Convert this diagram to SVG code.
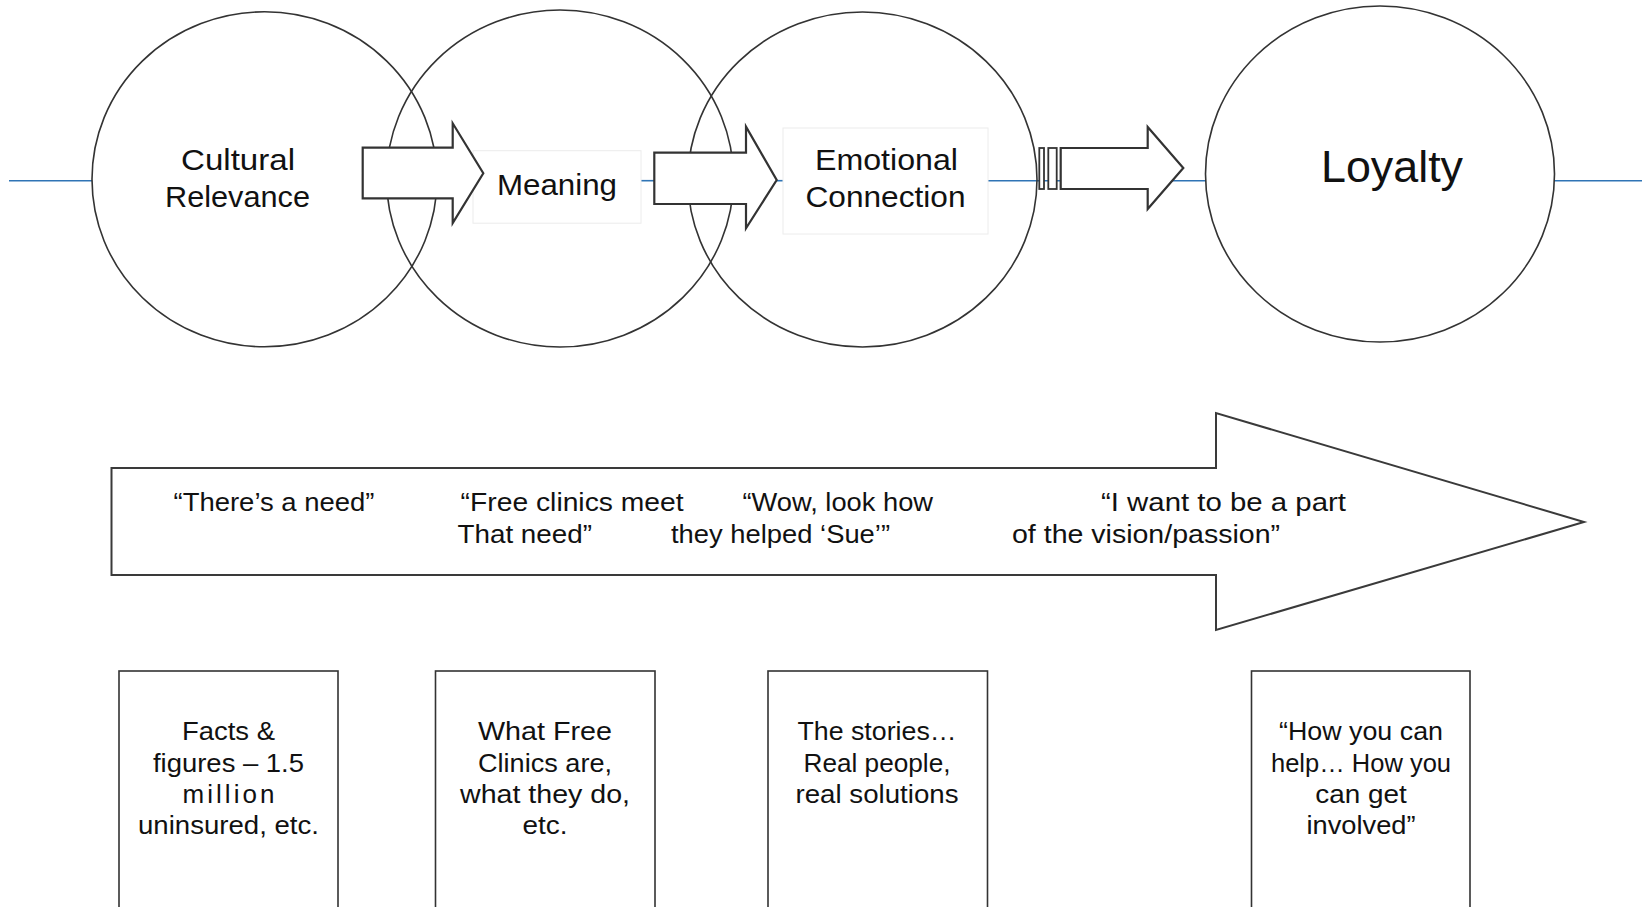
<svg xmlns="http://www.w3.org/2000/svg" width="1649" height="907" viewBox="0 0 1649 907">
<style>
.bg{fill:#ffffff}
.circle{fill:none;stroke:#333333;stroke-width:1.6}
.blue{stroke:#2f74b5;stroke-width:1.6;fill:none}
.lbox{fill:#ffffff;stroke:#ececec;stroke-width:1}
.barrow{fill:#ffffff;stroke:#333333;stroke-width:2.2;stroke-linejoin:miter}
.big{fill:#ffffff;stroke:#3a3a3a;stroke-width:2}
.box{fill:#ffffff;stroke:#333333;stroke-width:1.6}
.t{font-family:"Liberation Sans","Noto Sans",sans-serif;fill:#111111}
.lab{font-size:30px;text-anchor:middle}
.q{font-size:26px}
.bt{font-size:26px;text-anchor:middle}
</style>
<rect class="bg" x="0" y="0" width="1649" height="907"/>
<g id="connectors">
<line class="blue" x1="9" y1="180.7" x2="92" y2="180.7"/>
<line class="blue" x1="641" y1="180.7" x2="655" y2="180.7"/>
<line class="blue" x1="776" y1="180.7" x2="784" y2="180.7"/>
<line class="blue" x1="988" y1="180.7" x2="1062" y2="180.7"/>
<line class="blue" x1="1172" y1="180.7" x2="1206" y2="180.7"/>
<line class="blue" x1="1554" y1="180.7" x2="1642" y2="180.7"/>
</g>
<g id="circle-cultural"><ellipse class="circle" cx="264.5" cy="179.3" rx="172.5" ry="167.5"/></g>
<g id="circle-meaning"><ellipse class="circle" cx="560" cy="178.5" rx="173.5" ry="168.5"/></g>
<g id="circle-emotional"><ellipse class="circle" cx="862.5" cy="179.5" rx="174.5" ry="167.5"/></g>
<g id="circle-loyalty"><ellipse class="circle" cx="1380" cy="174" rx="174.5" ry="168"/></g>
<g id="label-meaning-box"><rect class="lbox" x="473" y="150.7" width="168" height="72.5"/></g>
<g id="label-emotional-box"><rect class="lbox" x="783" y="128" width="205" height="106"/></g>
<g id="arrow-1"><path class="barrow" d="M362.7 147.7 L452.7 147.7 L452.7 123.3 L483.3 173.3 L452.7 223 L452.7 198.3 L362.7 198.3 Z"/></g>
<g id="arrow-2"><path class="barrow" d="M654.3 152.7 L746 152.7 L746 126.7 L776.7 180 L746 228.3 L746 204 L654.3 204 Z"/></g>
<g id="arrow-3">
<rect class="barrow" x="1039.3" y="148" width="4.7" height="41" style="stroke-width:1.8"/>
<rect class="barrow" x="1048.3" y="148" width="8.4" height="41" style="stroke-width:1.8"/>
<path class="barrow" d="M1060.7 148 L1147.7 148 L1147.7 127 L1183.3 168 L1147.7 209 L1147.7 189 L1060.7 189 Z"/>
</g>
<g id="texts-top">
<text class="t lab" x="238" y="170" textLength="114" lengthAdjust="spacingAndGlyphs">Cultural</text>
<text class="t lab" x="237.5" y="207" textLength="145" lengthAdjust="spacingAndGlyphs">Relevance</text>
<text class="t lab" x="557" y="195" textLength="120" lengthAdjust="spacingAndGlyphs">Meaning</text>
<text class="t lab" x="886.5" y="170" textLength="143" lengthAdjust="spacingAndGlyphs">Emotional</text>
<text class="t lab" x="885.5" y="207" textLength="160" lengthAdjust="spacingAndGlyphs">Connection</text>
<text class="t lab" x="1392" y="182" style="font-size:44px" textLength="142" lengthAdjust="spacingAndGlyphs">Loyalty</text>
</g>
<g id="big-arrow">
<path class="big" d="M111.5 468 L1216 468 L1216 413 L1584 522 L1216 630 L1216 575 L111.5 575 Z"/>
<text class="t q" x="173.5" y="511" textLength="201" lengthAdjust="spacingAndGlyphs">“There’s a need”</text>
<text class="t q" x="460.6" y="511" textLength="223" lengthAdjust="spacingAndGlyphs">“Free clinics meet</text>
<text class="t q" x="457.5" y="543" textLength="134.5" lengthAdjust="spacingAndGlyphs">That need”</text>
<text class="t q" x="742.5" y="511" textLength="190.5" lengthAdjust="spacingAndGlyphs">“Wow, look how</text>
<text class="t q" x="671" y="543" textLength="219" lengthAdjust="spacingAndGlyphs">they helped ‘Sue’”</text>
<text class="t q" x="1101" y="511" textLength="245" lengthAdjust="spacingAndGlyphs">“I want to be a part</text>
<text class="t q" x="1012" y="543" textLength="268" lengthAdjust="spacingAndGlyphs">of the vision/passion”</text>
</g>
<g id="box-facts">
<rect class="box" x="119" y="671" width="219" height="260"/>
<text class="t bt" x="228.5" y="740" textLength="93" lengthAdjust="spacingAndGlyphs">Facts &amp;</text>
<text class="t bt" x="228.5" y="772" textLength="151" lengthAdjust="spacingAndGlyphs">figures – 1.5</text>
<text class="t bt" x="228.5" y="803" textLength="92" lengthAdjust="spacing">million</text>
<text class="t bt" x="228.5" y="834" textLength="181" lengthAdjust="spacingAndGlyphs">uninsured, etc.</text>
</g>
<g id="box-what">
<rect class="box" x="435.5" y="671" width="219.5" height="260"/>
<text class="t bt" x="545" y="740" textLength="134" lengthAdjust="spacingAndGlyphs">What Free</text>
<text class="t bt" x="545" y="772" textLength="134" lengthAdjust="spacingAndGlyphs">Clinics are,</text>
<text class="t bt" x="545" y="803" textLength="170" lengthAdjust="spacingAndGlyphs">what they do,</text>
<text class="t bt" x="545" y="834" textLength="45" lengthAdjust="spacingAndGlyphs">etc.</text>
</g>
<g id="box-stories">
<rect class="box" x="768" y="671" width="219.5" height="260"/>
<text class="t bt" x="877" y="740" textLength="159" lengthAdjust="spacingAndGlyphs">The stories…</text>
<text class="t bt" x="877" y="772" textLength="147" lengthAdjust="spacingAndGlyphs">Real people,</text>
<text class="t bt" x="877" y="803" textLength="163" lengthAdjust="spacingAndGlyphs">real solutions</text>
</g>
<g id="box-help">
<rect class="box" x="1251.5" y="671" width="218.5" height="260"/>
<text class="t bt" x="1361" y="740" textLength="164" lengthAdjust="spacingAndGlyphs">“How you can</text>
<text class="t bt" x="1361" y="772" textLength="180" lengthAdjust="spacingAndGlyphs">help… How you</text>
<text class="t bt" x="1361" y="803" textLength="91.5" lengthAdjust="spacingAndGlyphs">can get</text>
<text class="t bt" x="1361" y="834" textLength="109" lengthAdjust="spacingAndGlyphs">involved”</text>
</g>
</svg>
